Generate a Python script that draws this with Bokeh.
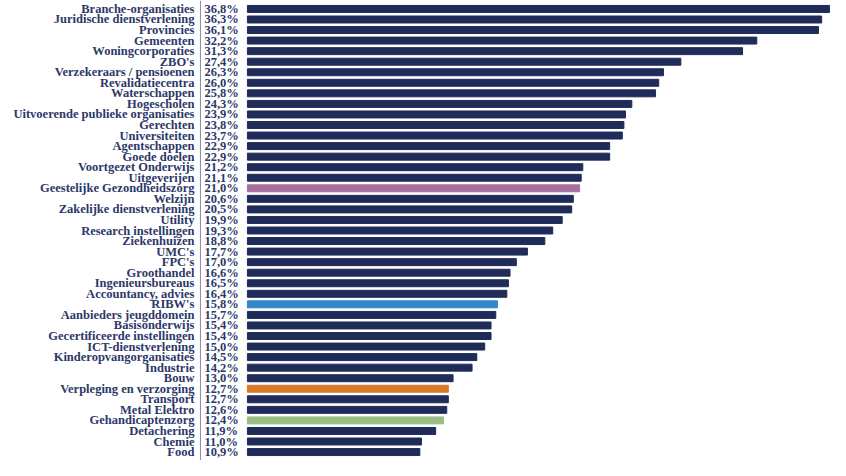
from bokeh.plotting import figure
from bokeh.models import FactorRange, ColumnDataSource, Span
from bokeh.core.properties import value
from bokeh.embed import file_html
from bokeh.resources import INLINE

categories = [
    "Branche-organisaties", "Juridische dienstverlening", "Provincies", "Gemeenten",
    "Woningcorporaties", "ZBO's", "Verzekeraars / pensioenen", "Revalidatiecentra",
    "Waterschappen", "Hogescholen", "Uitvoerende publieke organisaties", "Gerechten",
    "Universiteiten", "Agentschappen", "Goede doelen", "Voortgezet Onderwijs",
    "Uitgeverijen", "Geestelijke Gezondheidszorg", "Welzijn", "Zakelijke dienstverlening",
    "Utility", "Research instellingen", "Ziekenhuizen", "UMC's", "FPC's", "Groothandel",
    "Ingenieursbureaus", "Accountancy, advies", "RIBW's", "Aanbieders jeugddomein",
    "Basisonderwijs", "Gecertificeerde instellingen", "ICT-dienstverlening",
    "Kinderopvangorganisaties", "Industrie", "Bouw", "Verpleging en verzorging",
    "Transport", "Metal Elektro", "Gehandicaptenzorg", "Detachering", "Chemie", "Food",
]
values = [
    36.8, 36.3, 36.1, 32.2, 31.3, 27.4, 26.3, 26.0, 25.8, 24.3, 23.9, 23.8, 23.7,
    22.9, 22.9, 21.2, 21.1, 21.0, 20.6, 20.5, 19.9, 19.3, 18.8, 17.7, 17.0, 16.6,
    16.5, 16.4, 15.8, 15.7, 15.4, 15.4, 15.0, 14.5, 14.2, 13.0, 12.7, 12.7, 12.6,
    12.4, 11.9, 11.0, 10.9,
]
highlight = {
    "Geestelijke Gezondheidszorg": "#a66f9f",
    "RIBW's": "#2e87c8",
    "Verpleging en verzorging": "#d9782b",
    "Gehandicaptenzorg": "#9dbd86",
}
base_color = "#1f2b59"
text_color = "#2c3869"

colors = [highlight.get(c, base_color) for c in categories]
pct_labels = [f"{v:.1f}%".replace(".", ",") for v in values]

source = ColumnDataSource(dict(cat=categories, val=values, color=colors, pct=pct_labels,
                               lx=[-3.35] * len(categories), px=[-2.72] * len(categories)))

p = figure(width=830, height=460, output_backend="svg", toolbar_location=None,
           y_range=FactorRange(factors=list(reversed(categories)),
                               range_padding=0.3, range_padding_units="absolute"),
           x_range=(-15.61, 36.86), min_border=0)
p.axis.visible = False
p.grid.visible = False
p.outline_line_color = None
p.background_fill_color = "white"

p.hbar(y="cat", right="val", left=0, height=0.66, color="color", source=source)

p.text(x="lx", y="cat", text="cat", source=source, text_align="right",
       text_baseline="middle", text_font=value("Liberation Serif"),
       text_font_style="bold", text_font_size="12.5px", text_color=text_color)
p.text(x="px", y="cat", text="pct", source=source, text_align="left",
       text_baseline="middle", text_font=value("Liberation Serif"),
       text_font_style="bold", text_font_size="12.5px", text_color=text_color)

p.add_layout(Span(location=-2.97, dimension="height", line_color="#7f8bb0", line_width=1))

open("out.html", "w").write(file_html(p, INLINE))
